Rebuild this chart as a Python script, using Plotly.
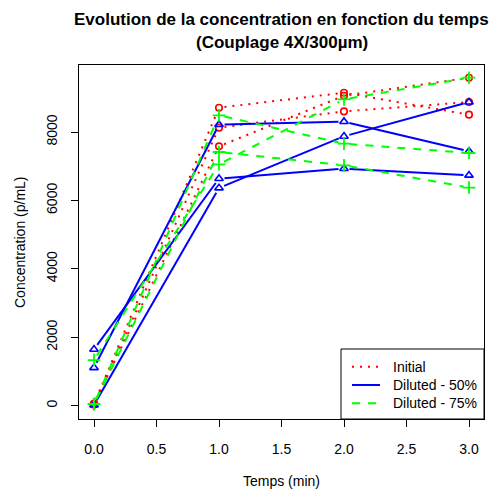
import math
import plotly.graph_objects as go

# Sampling times (min)
times = [0, 1, 2, 3]

# Concentration (p/mL), three replicates per condition
initial = [
    [50, 8712, 9150, 8508],
    [30, 8128, 8604, 8876],
    [60, 7582, 9060, 9588],
]
diluted_50 = [
    [1110, 8216, 8304, 7436],
    [1647, 6639, 6931, 6736],
    [20, 6365, 7874, 8876],
]
diluted_75 = [
    [40, 8488, 7661, 7387],
    [50, 7416, 7027, 6377],
    [1334, 7057, 8955, 9588],
]

x_ticks = [0, 0.5, 1, 1.5, 2, 2.5, 3]
y_ticks = [0, 2000, 4000, 6000, 8000]

W, H = 495, 489
M = dict(l=79, r=11, t=65, b=70)
X_RANGE = [-0.12, 3.12]
Y_RANGE = [-390, 9960]
PLOT_W = W - M["l"] - M["r"]
PLOT_H = H - M["t"] - M["b"]
SX = PLOT_W / (X_RANGE[1] - X_RANGE[0])
SY = PLOT_H / (Y_RANGE[1] - Y_RANGE[0])
GAP = 5.5  # pixels left open around each point (type "b" look)
FONT = "Liberation Sans, Arial"


def gapped(xs, ys):
    """Line segments between consecutive points, shortened near each point."""
    gx, gy = [], []
    for i in range(len(xs) - 1):
        dx, dy = xs[i + 1] - xs[i], ys[i + 1] - ys[i]
        length = math.hypot(dx * SX, dy * SY)
        if length <= 2 * GAP:
            continue
        f = GAP / length
        gx += [xs[i] + f * dx, xs[i + 1] - f * dx, None]
        gy += [ys[i] + f * dy, ys[i + 1] - f * dy, None]
    return gx, gy


groups = [
    ("Initial", initial, "#FF0000", "2px,6px",
     dict(symbol="circle-open", size=6.5, line=dict(width=1.6))),
    ("Diluted - 50%", diluted_50, "#0000FF", "solid",
     dict(symbol="triangle-up-open", size=7.5, line=dict(width=1.6))),
    ("Diluted - 75%", diluted_75, "#00FF00", "8px,8px",
     dict(symbol="cross-thin-open", size=9, line=dict(width=1.8))),
]

fig = go.Figure()

for name, series, color, dash, marker in groups:
    for ys in series:
        lx, ly = gapped(times, ys)
        fig.add_trace(go.Scatter(
            x=lx, y=ly, mode="lines", showlegend=False, hoverinfo="skip",
            line=dict(color=color, width=2, dash=dash),
        ))
        mk = dict(marker)
        mk["color"] = color
        mk["line"] = dict(marker["line"], color=color)
        fig.add_trace(go.Scatter(
            x=times, y=ys, mode="markers", showlegend=False, name=name,
            marker=mk,
        ))

axis_common = dict(
    showgrid=False, zeroline=False, showline=True, linecolor="black",
    linewidth=1, mirror=True, ticks="outside", ticklen=7, tickwidth=1,
    tickcolor="black", tickfont=dict(family=FONT, size=14, color="black"),
)

fig.update_layout(
    width=W, height=H, margin=M,
    paper_bgcolor="white", plot_bgcolor="white",
    font=dict(family=FONT, size=14, color="black"),
    xaxis=dict(axis_common, range=X_RANGE, tickvals=x_ticks,
               ticktext=[f"{v:.1f}" for v in x_ticks], ticklabelstandoff=10),
    yaxis=dict(axis_common, range=Y_RANGE, tickvals=y_ticks,
               ticktext=[str(v) for v in y_ticks], tickangle=-90,
               ticklabelstandoff=8),
    showlegend=False,
)


def px_x(xpx):
    return (xpx - M["l"]) / PLOT_W


def px_y(ypx):
    return (H - M["b"] - ypx) / PLOT_H


# Legend box in the lower-right corner of the plot area
fig.add_shape(
    type="rect", xref="paper", yref="paper",
    x0=px_x(341), x1=1, y0=0, y1=px_y(349),
    line=dict(color="black", width=1), fillcolor="white", layer="above",
)
for i, (name, series, color, dash, marker) in enumerate(groups):
    yc = px_y(366.7 + 18.3 * i)
    fig.add_shape(
        type="line", xref="paper", yref="paper",
        x0=px_x(352), x1=px_x(380), y0=yc, y1=yc,
        line=dict(color=color, width=2, dash=dash), layer="above",
    )
    fig.add_annotation(
        text=name, xref="paper", yref="paper", x=px_x(391), y=yc,
        xanchor="left", yanchor="middle", showarrow=False,
        font=dict(size=14),
    )

fig.add_annotation(
    text="<b>Evolution de la concentration en fonction du temps</b>",
    xref="paper", yref="paper", x=0.5, y=px_y(20), xanchor="center",
    yanchor="middle", showarrow=False, font=dict(size=17),
)
fig.add_annotation(
    text="<b>(Couplage 4X/300µm)</b>",
    xref="paper", yref="paper", x=0.5, y=px_y(42), xanchor="center",
    yanchor="middle", showarrow=False, font=dict(size=17),
)
fig.add_annotation(
    text="Temps (min)", xref="paper", yref="paper", x=0.5, y=px_y(481),
    xanchor="center", yanchor="middle", showarrow=False, font=dict(size=14),
)
fig.add_annotation(
    text="Concentration (p/mL)", xref="paper", yref="paper",
    x=px_x(20), y=0.5, xanchor="center", yanchor="middle",
    textangle=-90, showarrow=False, font=dict(size=14),
)

fig.write_html("out.html")
